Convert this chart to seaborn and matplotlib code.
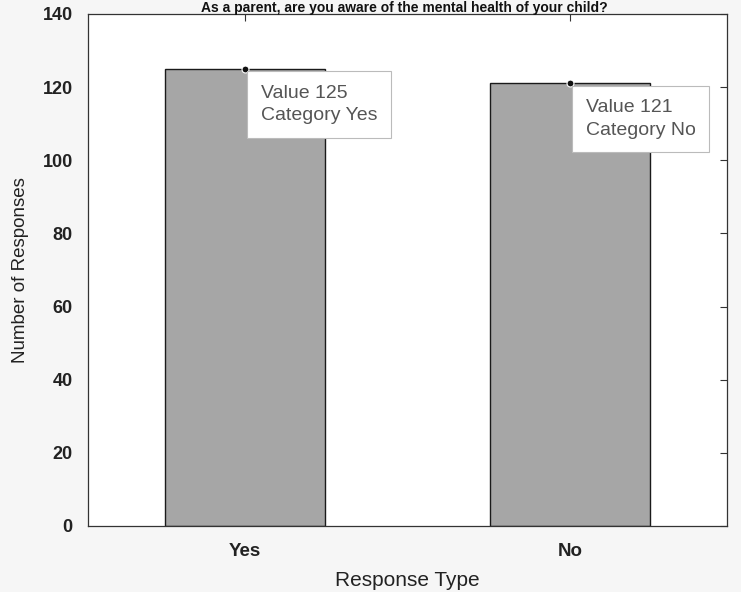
import matplotlib
matplotlib.use("Agg")
import matplotlib.pyplot as plt
import seaborn as sns
import pandas as pd

categories = ["Yes", "No"]
values = [125, 121]
title = "As a parent, are you aware of the mental health of your child?"
yticks = [0, 20, 40, 60, 80, 100, 120, 140]

sns.set_style("white")
plt.rcParams["font.family"] = ["Liberation Sans", "DejaVu Sans"]

df = pd.DataFrame({"Response Type": categories, "Number of Responses": values})

fig = plt.figure(figsize=(7.41, 5.92), dpi=100)
fig.patch.set_facecolor("#f6f6f6")
ax = fig.add_axes([88 / 741, 1 - 526 / 592, (727 - 88) / 741, (526 - 14) / 592])
ax.set_facecolor("white")

sns.barplot(data=df, x="Response Type", y="Number of Responses", ax=ax,
            color="#a6a6a6", saturation=1, width=0.49, edgecolor="#1a1a1a",
            linewidth=1.0)

ax.set_xlim(-0.483, 1.483)
ax.set_ylim(0, 140)
ax.set_yticks(yticks)
ax.set_yticklabels([str(t) for t in yticks], fontsize=13, fontweight="bold", color="#222222")
ax.set_xticks(range(len(categories)))
ax.set_xticklabels(categories, fontsize=13.5, fontweight="bold", color="#222222")
ax.tick_params(axis="y", pad=11)
ax.tick_params(axis="x", pad=12)
ax.tick_params(direction="in", length=5, width=0.8, top=True, right=True, color="#333333")
ax.set_xlabel("Response Type", fontsize=15, color="#222222", labelpad=8)
ax.set_ylabel("Number of Responses", fontsize=13.5, color="#222222")
ax.yaxis.set_label_coords(-0.092, 0.5)
for s in ax.spines.values():
    s.set_color("#333333")
    s.set_linewidth(0.9)

fig.text(0.545, 0.999, title, ha="center", va="top", fontsize=10,
         fontweight="bold", color="#111111")

for i, (c, v) in enumerate(zip(categories, values)):
    ax.plot(i, v, "o", color="#111111", markersize=5, zorder=5,
            markeredgecolor="white", markeredgewidth=0.8)
    ax.annotate(f"Value {v}\nCategory {c}", xy=(i, v), xytext=(11.5, -11.5),
                textcoords="offset points", ha="left", va="top",
                fontsize=14, color="#555555", linespacing=1.4,
                bbox=dict(boxstyle="square,pad=0.7", fc="white", ec="#bbbbbb", lw=0.8),
                zorder=6)

fig.savefig("out.png", dpi=100, facecolor=fig.get_facecolor())
